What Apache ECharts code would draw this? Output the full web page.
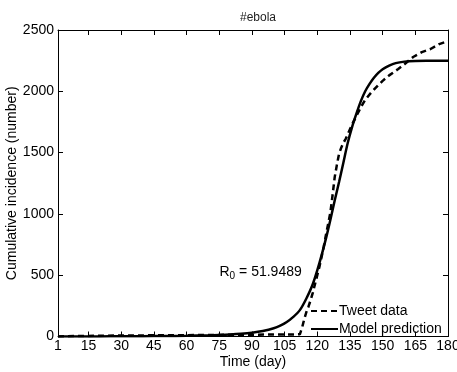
<!DOCTYPE html>
<html>
<head>
<meta charset="utf-8">
<script src="https://cdn.jsdelivr.net/npm/echarts@6/dist/echarts.min.js"></script>
<style>html,body{margin:0;padding:0;background:#fff}#c{width:457px;height:372px}</style>
</head>
<body>
<div id="c"></div>
<script>
// ---- data ----
var modelDays   = [1, 10, 20, 30, 40, 50, 60, 70, 75, 80, 85, 90, 95, 100, 103, 106, 109, 112, 115, 118, 121, 124, 126, 128, 130, 132, 134, 136, 138, 140, 142, 144, 146, 148, 150, 153, 156, 160, 165, 170, 180];
var modelValues = [0, 0.5, 1, 1.5, 2.5, 4, 6, 9, 12, 16, 22, 31, 45, 67, 88, 118, 160, 215, 310, 430, 600, 800, 950, 1110, 1260, 1420, 1580, 1710, 1820, 1920, 2000, 2060, 2110, 2150, 2180, 2210, 2230, 2242, 2248, 2250, 2250];
var tweetDays   = [1, 5, 10, 20, 30, 40, 50, 60, 70, 80, 90, 100, 110, 112, 113, 114, 115, 116, 117, 118, 119, 120, 121, 122, 123, 124, 125, 126, 127, 128, 129, 130, 131, 132, 133, 134, 135, 136, 138, 140, 142, 145, 148, 150, 153, 157, 160, 164, 168, 172, 176, 180];
var tweetValues = [0, 2, 4, 6, 8, 9, 10, 11, 12, 14, 15, 16, 17, 18, 70, 140, 200, 245, 300, 360, 430, 500, 570, 650, 735, 830, 920, 1010, 1150, 1300, 1400, 1490, 1540, 1580, 1610, 1650, 1690, 1730, 1800, 1870, 1930, 1995, 2050, 2085, 2130, 2180, 2220, 2280, 2320, 2345, 2385, 2410];
var xTicks = [1, 15, 30, 45, 60, 75, 90, 105, 120, 135, 150, 165, 180];
var yTicks = [0, 500, 1000, 1500, 2000, 2500];
var annotationAt = [94, 528];
var r0Text = '51.9489';

function pairs(xs, ys) { return xs.map(function (x, i) { return [x, ys[i]]; }); }

var FONT = '"Liberation Sans", Arial, Helvetica, sans-serif';
var chart = echarts.init(document.getElementById('c'), null, { renderer: 'canvas' });

var axisLineStyle = { show: true, onZero: false, lineStyle: { color: '#000', width: 1 } };
var tickStyle = { show: true, inside: true, length: 5, lineStyle: { color: '#000', width: 1 } };

chart.setOption({
  backgroundColor: '#fff',
  animation: false,
  textStyle: { fontFamily: FONT },
  title: {
    text: '#ebola', left: 253, top: 7, textAlign: 'center',
    textStyle: { fontSize: 12, fontWeight: 'normal', color: '#222', fontFamily: FONT }
  },
  grid: { left: 58, right: 9, top: 30, bottom: 35.5, containLabel: false, outerBoundsMode: 'none' },
  legend: {
    orient: 'vertical', left: 305, top: 299, itemWidth: 27, itemHeight: 14, itemGap: 4,
    itemStyle: { opacity: 0 },
    textStyle: { fontSize: 14, color: '#000', fontFamily: FONT, padding: [0, 0, 0, -4] },
    data: ['Tweet data', 'Model prediction']
  },
  xAxis: [
    {
      type: 'value', min: 1, max: 180, position: 'bottom',
      name: 'Time (day)', nameLocation: 'middle', nameGap: 19, nameMoveOverlap: false,
      nameTextStyle: { fontSize: 14, color: '#000', fontFamily: FONT },
      axisLine: axisLineStyle,
      axisTick: Object.assign({ customValues: xTicks }, tickStyle),
      axisLabel: { customValues: xTicks, fontSize: 14, color: '#000', margin: 3, fontFamily: FONT, hideOverlap: false, showMinLabel: true, showMaxLabel: true, formatter: function (v) { return String(v); } },
      splitLine: { show: false }
    },
    {
      type: 'value', min: 1, max: 180, position: 'top',
      axisLine: axisLineStyle,
      axisTick: Object.assign({ customValues: xTicks }, tickStyle),
      axisLabel: { show: false },
      splitLine: { show: false }
    }
  ],
  yAxis: [
    {
      type: 'value', min: 0, max: 2500, interval: 500, position: 'left',
      name: 'Cumulative incidence (number)', nameLocation: 'middle', nameGap: 39, nameMoveOverlap: false,
      nameTextStyle: { fontSize: 14, color: '#000', fontFamily: FONT },
      axisLine: axisLineStyle,
      axisTick: tickStyle,
      axisLabel: { fontSize: 14, color: '#000', margin: 4, fontFamily: FONT, formatter: function (v) { return String(v); } },
      splitLine: { show: false }
    },
    {
      type: 'value', min: 0, max: 2500, interval: 500, position: 'right',
      axisLine: axisLineStyle,
      axisTick: tickStyle,
      axisLabel: { show: false },
      splitLine: { show: false }
    }
  ],
  series: [
    {
      name: 'Tweet data', type: 'line', xAxisIndex: 0, yAxisIndex: 0,
      data: pairs(tweetDays, tweetValues), showSymbol: false, symbol: 'none', smooth: false,
      lineStyle: { color: '#000', width: 2.5, type: [6, 4] }, itemStyle: { color: '#000' }, z: 2
    },
    {
      name: 'Model prediction', type: 'line', xAxisIndex: 0, yAxisIndex: 0,
      data: pairs(modelDays, modelValues), showSymbol: false, symbol: 'none', smooth: 0.3,
      lineStyle: { color: '#000', width: 2.5 }, itemStyle: { color: '#000' }, z: 3,
      markPoint: {
        symbol: 'circle', symbolSize: 0, silent: true,
        label: {
          show: true, position: 'inside', color: '#000', fontFamily: FONT,
          formatter: 'R{s|0} = ' + r0Text,
          fontSize: 14, lineHeight: 20,
          rich: { s: { fontSize: 10, lineHeight: 20, padding: [9, 0, 0, 0], color: '#000', fontFamily: FONT } }
        },
        data: [{ coord: annotationAt }]
      }
    }
  ]
});
</script>
</body>
</html>
